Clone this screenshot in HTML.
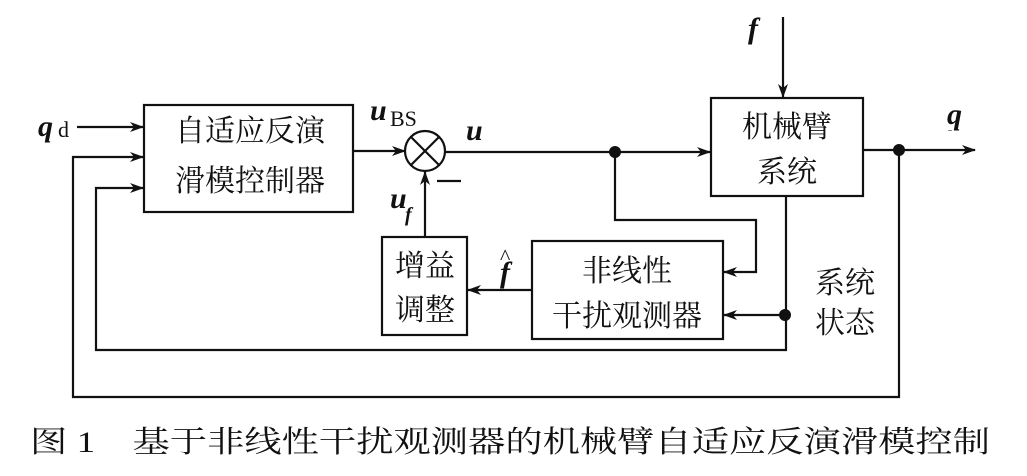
<!DOCTYPE html>
<html><head><meta charset="utf-8"><style>
body{margin:0;background:#fff;}
svg text{font-family:"Liberation Serif","Noto Serif CJK SC",serif;fill:#111;}
</style></head><body>
<svg width="1027" height="471" viewBox="0 0 1027 471" xmlns="http://www.w3.org/2000/svg">
<defs><marker id="a" markerWidth="14" markerHeight="10" refX="13" refY="5" orient="auto" markerUnits="userSpaceOnUse"><path d="M0,0 L14,5 L0,10 L4,5 Z" fill="#111"/></marker></defs>
<g fill="none" stroke="#111" stroke-width="2.2">
<rect x="144" y="105" width="209" height="107"/>
<rect x="711" y="98" width="152" height="98"/>
<rect x="532" y="241" width="191" height="98"/>
<rect x="382" y="237" width="85" height="98"/>
<circle cx="425" cy="151" r="20"/>
<path d="M411,137 L439,165 M439,137 L411,165"/>
<path d="M77,127 H143" marker-end="url(#a)"/>
<path d="M353,151 H405" marker-end="url(#a)"/>
<path d="M445,152 H710" marker-end="url(#a)"/>
<path d="M783,17 V97" marker-end="url(#a)"/>
<path d="M863,150 H975" marker-end="url(#a)"/>
<path d="M615,152 V220 H756 V272 H724" marker-end="url(#a)"/>
<path d="M785,315 H724" marker-end="url(#a)"/>
<path d="M786,196 V350 H96 V188 H143" marker-end="url(#a)"/>
<path d="M899,150 V397 H73 V157 H143" marker-end="url(#a)"/>
<path d="M532,290 H468" marker-end="url(#a)"/>
<path d="M425,237 V172" marker-end="url(#a)"/>
<path d="M437,181 H461"/>
</g>
<g fill="#111"><circle cx="615" cy="152" r="6"/><circle cx="899" cy="150" r="6"/><circle cx="785" cy="315" r="6"/></g>
<g font-size="30" text-anchor="middle">
<text x="250" y="141">自适应反演</text>
<text x="250" y="191">滑模控制器</text>
<text x="787" y="137">机械臂</text>
<text x="787" y="182">系统</text>
<text x="627" y="281">非线性</text>
<text x="627" y="326">干扰观测器</text>
<text x="425" y="276">增益</text>
<text x="425" y="320">调整</text>
<text x="845" y="293">系统</text>
<text x="845" y="333">状态</text>
</g>
<g font-style="italic" font-weight="bold" font-size="30">
<text x="38" y="136">q</text>
<text x="370" y="120">u</text>
<text x="466" y="140">u</text>
<text x="390" y="208">u</text>
<text x="748" y="38">f</text>
<text x="948" y="124">f</text>
<text x="500" y="282">f</text>
</g>
<rect x="946" y="100" width="22" height="30" fill="#fff"/>
<text x="947" y="124" font-style="italic" font-weight="bold" font-size="30">q</text>
<text x="58" y="137" font-size="22">d</text>
<text x="390" y="126" font-size="22">BS</text>
<text x="405" y="221" font-style="italic" font-weight="bold" font-size="20">f</text>
<text x="500" y="264" font-size="22">^</text>
<text x="30" y="452" font-size="30" textLength="960" lengthAdjust="spacingAndGlyphs">图 1　基于非线性干扰观测器的机械臂自适应反演滑模控制</text>
</svg>
</body></html>
